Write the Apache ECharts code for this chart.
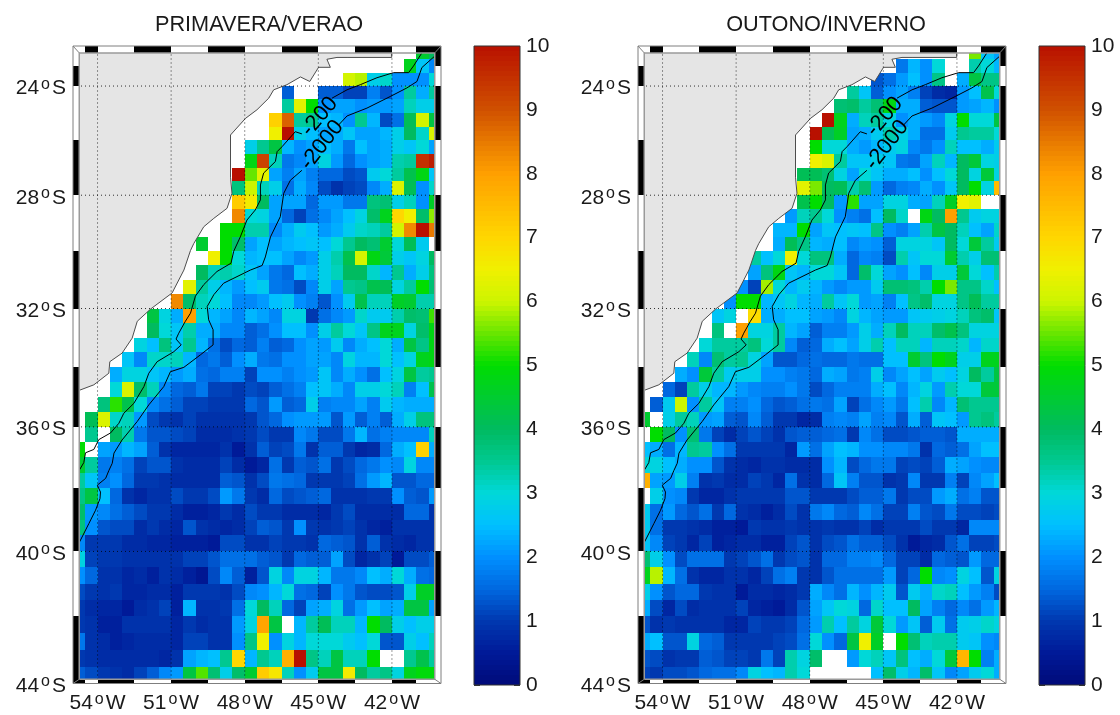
<!DOCTYPE html>
<html><head><meta charset="utf-8">
<style>html,body{margin:0;padding:0;background:#fff}#c{width:1120px;height:715px}</style>
<script src="https://cdn.jsdelivr.net/npm/echarts@6/dist/echarts.min.js"></script>
</head><body><div id="c"></div>
<script>
const _ = null, b = n => Array(n).fill(null);
const titles = ['PRIMAVERA/VERAO', 'OUTONO/INVERNO'];
const lonTicks = [-54, -51, -48, -45, -42];
const latTicks = [-24, -28, -32, -36, -40, -44];
const cbarTicks = [0, 10];
const palette = ['#000a78','#001a98','#0038b0','#0068e0','#0090ff','#00c0ff','#00d8d8','#00c890','#00bb60','#00cc30','#00dd00','#66e600','#ccf500','#f0f000','#ffd700','#ffbb00','#ffa000','#e87a00','#d05000','#c43000','#b81000'];
// rows run north to south in half-degree steps from 22.5S; columns west to east from 55W
const springRows = [
[...b(28),4.5,4.0],
[...b(27),4.7,2.6,1.9],
[...b(22),6.1,5.9,2.8,3.1,2.0,2.0,2.0,3.0],
[...b(17),1.4,_,_,1.4,1.4,1.1,1.1,1.8,1.3,2.0,3.4,2.3,3.4],
[...b(17),3.4,6.3,5.0,2.0,2.2,2.2,2.0,2.1,2.1,2.2,3.2,2.8,2.8],
[...b(16),7.1,8.8,3.4,3.5,2.5,2.4,2.0,3.5,2.4,1.2,1.6,4.1,6.1,4.3],
[...b(16),6.5,10,2.8,2.5,2.2,2.3,2.6,2.2,2.2,2.4,2.8,4.0,3.1,6.2],
[...b(14),2.8,3.5,4.3,2.4,2.0,2.2,2.5,2.3,1.7,2.5,2.2,2.3,2.8,2.6,3.0,2.2],
[...b(14),4.8,9.2,3.2,1.7,1.9,2.2,2.9,2.1,1.5,2.0,2.2,2.3,3.3,3.4,9.5,9.8],
[...b(13),10,5.5,6.3,2.2,1.8,2.2,1.8,1.5,1.5,1.2,1.3,2.7,3.0,3.4,4.2,4.8,2.6],
[...b(13),3.7,6.0,3.2,2.8,1.6,2.3,1.9,1.2,.9,1.1,1.2,1.9,2.3,6.2,4.1,2.0,3.1],
[...b(13),7.2,6.6,4.0,2.2,2.2,2.2,1.5,2.1,2.1,1.7,1.7,3.7,3.8,2.8,3.2,2.0,4.6],
[...b(13),8.3,3.0,2.9,2.2,1.5,1.1,1.6,1.9,2.2,2.5,2.9,3.9,4.7,7.0,6.5,3.9,5.7],
[...b(12),5.0,5.0,3.3,3.3,1.9,2.3,2.7,2.5,2.1,2.3,2.7,3.1,3.2,3.4,6.1,8.3,10,8.5],
[...b(10),4.5,_,5.0,3.9,2.2,2.5,2.2,2.4,2.5,2.6,2.5,3.0,3.5,4.0,3.8,4.5,3.0,4.1,2.7,_],
[...b(11),6.5,5.0,3.0,2.4,2.5,2.5,2.2,1.9,2.1,2.8,3.3,4.2,6.1,4.8,4.4,2.8,2.6,2.9,4.0],
[...b(10),4.0,3.2,3.3,3.1,2.6,2.2,1.7,1.5,2.5,2.3,2.8,3.2,4.0,4.0,3.1,2.4,3.5,2.3,2.8,3.7],
[...b(9),6.3,3.4,2.8,2.4,2.1,2.5,2.7,1.7,1.6,1.2,1.9,2.8,2.2,3.5,3.6,4.2,4.1,2.9,3.4,5.0,3.8],
[...b(8),8.3,3.9,3.2,3.0,2.5,1.9,1.9,2.1,2.5,2.7,2.0,1.8,1.3,2.0,2.7,4.2,3.2,3.2,4.6,4.5,3.3,3.3],
[...b(6),4.3,2.9,2.3,8.0,3.0,2.4,2.2,1.9,2.4,2.2,1.9,2.9,2.9,1.0,1.6,1.9,2.1,3.1,2.7,2.7,3.3,3.9,3.8,5.3],
[...b(6),4.0,3.0,2.6,3.3,2.3,2.3,1.9,1.9,1.4,1.6,2.0,2.5,2.5,2.0,2.8,3.4,3.0,2.6,3.6,4.7,4.7,2.9,3.9,4.8],
[...b(5),2.9,2.5,3.7,2.6,3.5,2.4,1.6,1.2,1.5,1.4,1.8,1.4,1.5,2.0,2.2,2.1,2.7,1.9,2.3,2.5,3.0,2.3,4.3,3.6,4.8],
[...b(4),2.6,1.9,3.1,3.1,3.2,2.4,1.5,1.7,1.4,2.0,2.3,1.7,1.6,2.0,2.0,2.2,2.2,1.9,2.9,2.4,2.4,3.0,2.5,2.9,4.7,4.8],
[...b(3),2.3,2.9,2.9,2.6,2.4,2.1,2.3,1.6,1.5,1.8,1.8,1.1,2.0,2.0,1.8,2.0,2.1,2.6,1.9,2.3,2.0,1.6,2.5,2.9,4.3,3.4,3.5],
[...b(3),3.0,6.2,3.9,3.2,1.9,1.5,1.4,1.7,1.1,1.1,1.0,1.2,1.1,1.4,1.6,1.8,2.5,2.6,2.3,1.9,2.8,2.8,3.0,3.2,1.8,2.5,4.2],
[...b(2),3.7,5.2,4.2,3.0,1.9,1.6,1.4,1.1,1.1,1.0,1.0,1.0,1.5,1.3,2.1,1.4,1.5,2.8,1.8,1.9,1.9,2.2,1.8,2.7,2.4,2.3,2.3,2.3],
[_,4.1,6.2,3.1,3.2,2.1,1.2,1.0,.9,1.1,.9,.9,.9,.9,1.0,1.3,1.5,2.0,2.1,2.1,2.1,1.3,2.1,1.4,1.8,1.4,2.3,2.8,3.7,3.7],
[_,3.5,_,4.0,3.3,1.7,1.3,1.3,1.2,1.1,.8,.8,.8,.9,1.0,1.2,1.0,1.0,1.9,1.7,1.2,1.2,1.7,2.4,1.6,1.8,1.9,1.9,1.9,3.2],
[5.0,_,2.2,2.1,2.4,2.2,1.4,.9,.7,.7,.7,.7,.9,.5,.9,1.4,1.1,1.2,1.7,.9,1.4,1.4,1.0,.7,.8,1.5,2.3,2.5,7.1,2.3],
[4.5,3.4,1.7,1.8,1.6,1.1,1.3,1.3,.9,.8,.8,.8,1.1,.8,.5,.7,1.6,1.0,1.4,1.3,1.6,1.0,1.2,1.5,1.7,2.0,1.9,2.9,1.9,1.9],
[3.4,2.6,1.8,2.0,1.5,1.0,1.0,.9,.8,.8,.8,.8,1.4,1.3,.9,1.2,1.7,1.6,1.5,1.0,1.0,1.0,1.1,1.6,2.1,2.4,1.3,1.3,1.5,1.5],
[3.6,4.3,2.5,1.5,.9,.7,.9,.9,1.2,1.0,1.0,1.2,2.1,1.7,1.0,.8,1.5,1.2,1.3,1.4,1.5,.9,.9,.9,1.0,1.0,2.0,1.4,1.3,2.1],
[3.9,2.1,1.9,1.6,1.4,1.2,1.0,1.0,.8,.6,.6,.7,1.0,.8,1.2,1.0,1.0,.8,.8,.8,.7,1.0,1.2,.8,.8,.8,.8,1.5,1.5,.9],
[3.7,2.0,1.3,1.2,1.2,.8,1.0,.8,.7,1.3,.9,.8,.7,.8,1.1,1.4,1.3,1.0,2.0,1.0,.9,1.0,1.1,.9,.7,.6,.9,.9,.9,.9],
[1.9,1.0,1.0,1.0,.8,.8,.7,.7,.6,.6,.6,.5,1.2,1.2,.9,.9,1.1,1.0,1.0,.9,1.5,1.4,1.3,.9,1.4,.9,.8,.7,.9,.9],
[2.9,1.1,1.0,1.0,.9,.9,.9,.9,.9,1.1,1.1,1.3,1.6,1.6,1.6,1.4,1.3,1.0,1.5,1.4,1.4,2.2,1.2,.7,.9,1.1,.5,1.2,1.2,1.4],
[2.0,1.5,.9,.9,.7,.8,.6,.9,.8,.6,.4,1.2,1.9,1.4,.6,1.3,2.9,1.9,2.9,2.9,2.4,1.7,1.7,1.9,2.5,2.3,3.0,2.3,1.6,1.5],
[1.2,1.0,.9,1.0,.7,.7,.8,.8,.6,1.0,1.0,1.0,.9,1.2,1.9,2.0,2.4,3.0,1.6,1.5,1.1,2.0,1.7,1.3,1.2,1.2,1.3,2.8,4.6,4.6],
[1.0,.8,.7,.7,.5,.8,.9,1.1,.6,2.4,.9,.9,1.0,1.6,3.0,4.0,3.2,1.5,1.1,2.2,2.3,2.9,1.6,2.1,2.5,2.2,2.3,4.3,4.3,2.2],
[1.0,.9,.6,.6,.9,.9,.9,.9,.7,1.0,.8,.9,.9,2.1,2.9,7.9,4.3,_,2.4,3.4,4.1,3.2,3.2,2.4,5.0,4.0,2.8,2.5,2.8,2.8],
[1.7,.9,.8,.6,.7,.8,.8,.8,.7,1.1,1.1,.9,.9,2.0,3.6,6.5,2.0,2.9,2.4,3.0,3.0,3.0,2.7,2.5,3.0,1.3,1.3,2.8,2.5,3.2],
[1.0,.9,.8,.8,.8,.8,.8,.7,.9,2.2,2.4,2.5,3.5,7.0,2.4,3.5,3.2,7.7,10,3.6,3.2,4.3,3.2,3.2,5.0,_,_,3.5,4.2,3.4],
[1.4,1.2,1.0,.9,.8,1.1,1.4,1.9,2.1,4.3,5.4,3.8,2.8,3.9,4.5,7.2,6.7,3.2,2.0,2.7,4.3,4.3,6.6,4.0,3.4,3.6,2.9,4.7,4.9,4.9]
];
const autumnRows = [
[...b(27),5.6,2.6,2.2],
[...b(21),1.7,2.4,2.0,3.0,_,_,3.3,3.0,2.4],
[...b(19),1.3,1.6,2.1,2.5,2.0,3.6,_,2.3,4.3,3.6,3.6],
[...b(17),3.4,2.6,1.4,2.0,2.2,1.8,1.1,.8,.7,2.1,2.5,4.2,3.0],
[...b(16),3.8,3.9,3.4,3.8,4.8,2.3,2.3,1.4,1.3,1.3,2.1,2.2,2.4,2.0],
[...b(15),10,4.7,2.3,3.2,3.4,2.9,2.0,2.3,2.1,1.9,2.9,5.0,3.0,3.0,4.3],
[...b(14),10,4.1,4.6,2.2,2.3,2.7,3.3,2.8,2.3,1.6,1.6,2.7,3.5,3.4,3.4,3.0],
[...b(14),5.0,3.0,3.0,2.3,2.1,2.4,2.7,2.9,1.9,1.7,2.0,3.2,2.5,2.5,2.3,2.7],
[...b(14),6.5,6.2,3.4,2.6,2.6,2.8,2.6,1.7,1.6,2.2,3.2,2.4,4.0,4.4,2.9,2.8],
[...b(13),4.1,4.1,3.8,2.9,2.2,3.0,2.6,2.3,2.3,2.5,2.0,2.5,3.0,4.0,2.9,4.4,2.9],
[...b(13),6.3,5.6,4.0,4.1,3.3,3.8,2.1,1.5,1.8,1.9,2.3,2.0,2.6,4.0,5.0,2.9,7.5],
[...b(13),4.2,5.0,4.0,2.1,5.2,2.2,2.2,2.9,2.9,2.3,2.2,3.2,4.6,6.5,6.3,_,_],
[...b(12),2.1,3.2,3.5,3.0,2.0,1.8,1.6,2.5,4.0,3.1,_,4.8,4.0,8.0,3.5,2.7,2.9,2.9],
[...b(11),2.4,2.4,5.0,2.2,2.6,2.5,2.6,2.5,3.6,2.0,1.8,2.2,3.3,4.3,4.0,3.2,2.5,2.2,3.1],
[...b(11),2.3,4.1,3.6,2.4,2.3,2.5,1.9,2.1,2.0,1.4,2.9,2.9,2.9,2.6,4.0,3.0,4.4,3.4,2.7],
[...b(9),3.4,2.5,3.0,6.5,3.0,3.7,3.7,2.3,1.5,1.9,1.8,1.2,3.3,2.6,3.0,3.0,4.5,3.3,2.8,3.8,3.8],
[...b(9),2.2,3.7,4.8,2.6,2.4,3.0,3.0,2.6,1.5,3.9,3.0,2.2,2.0,2.5,1.9,2.8,2.8,4.4,3.0,2.5,3.3],
[...b(8),2.0,1.1,5.8,3.0,2.4,2.7,2.4,2.1,1.9,2.1,2.1,2.7,3.8,3.8,3.7,3.3,5.0,5.6,3.6,3.6,3.1,2.5],
[...b(7),2.0,5.0,5.0,2.4,2.6,2.9,2.4,2.3,3.4,2.6,3.0,2.1,2.2,1.8,2.5,3.6,3.9,2.9,2.9,3.6,4.1,3.4,3.4],
[...b(6),2.6,2.9,_,6.9,2.3,2.3,2.5,2.5,2.2,2.1,1.9,2.9,2.4,2.2,2.1,2.1,2.6,2.7,2.8,2.9,3.2,3.7,3.9,2.6],
[...b(6),3.7,_,8.0,2.9,2.9,3.4,2.4,2.2,1.4,1.8,1.8,2.1,2.8,2.3,3.2,4.0,3.2,3.2,3.9,4.2,3.7,2.9,2.9,2.9],
[...b(5),3.0,3.4,3.4,3.4,3.7,3.0,3.4,1.9,1.4,1.5,2.3,2.5,2.2,2.8,3.3,2.5,3.2,3.2,2.4,3.2,3.2,3.1,2.4,3.1,3.1],
[...b(4),3.2,1.9,3.8,3.4,3.5,2.9,2.2,1.3,1.3,1.5,1.6,1.5,1.5,1.7,1.6,1.6,2.5,2.5,4.5,3.7,5.0,4.7,2.8,2.8,4.7,4.7],
[...b(3),2.3,2.0,4.4,3.4,2.7,2.8,2.8,2.0,2.0,1.8,1.7,1.5,2.3,2.2,1.7,1.8,2.8,1.9,2.2,2.5,2.2,2.7,2.5,2.9,4.0,3.4,4.3],
[...b(2),1.5,1.1,3.4,2.8,2.4,2.4,2.1,1.9,1.8,1.8,2.0,1.7,1.2,1.5,1.8,1.8,1.8,2.3,2.5,1.9,2.4,2.9,2.1,3.3,3.0,3.0,4.4,4.4],
[_,1.4,2.7,6.0,2.0,3.4,2.6,1.8,1.8,2.0,1.5,1.3,1.4,1.6,1.7,1.6,2.2,1.1,1.6,1.9,2.1,1.7,2.5,3.3,1.9,2.4,3.8,3.5,3.5,3.5],
[4.5,_,2.8,3.4,3.2,2.1,2.2,1.4,1.3,1.9,1.4,1.0,1.0,.7,.8,1.8,1.9,1.8,2.2,1.8,1.9,1.3,2.3,1.4,2.6,2.5,2.1,3.5,3.7,3.4],
[_,5.0,4.0,2.0,3.8,1.7,1.1,.8,1.1,1.3,1.1,.9,1.3,1.4,1.4,1.5,1.6,1.0,1.9,1.6,1.2,1.2,1.3,1.4,1.4,1.3,2.3,2.3,2.3,2.3],
[2.5,2.3,1.6,2.4,3.5,3.4,2.0,1.6,1.0,1.0,1.0,1.0,.7,2.1,1.6,2.2,2.5,2.4,2.0,2.0,1.9,1.9,1.7,.9,1.5,1.4,1.6,2.2,2.5,2.5],
[3.0,2.9,2.5,2.3,2.0,2.0,1.3,.9,.8,.7,.9,.9,.8,.8,.8,2.0,2.4,1.2,1.5,1.7,1.7,1.1,1.2,1.1,1.4,2.3,2.2,2.0,1.9,1.9],
[7.7,2.2,2.1,2.8,1.8,.9,1.0,.8,.8,1.1,1.0,.7,1.6,.9,.8,1.5,2.6,1.8,1.3,1.3,.9,1.0,1.9,1.0,1.0,1.8,1.1,1.9,2.2,2.5],
[_,2.8,2.0,1.9,1.0,.7,.7,.9,1.0,1.0,1.0,1.0,1.3,1.3,1.0,1.0,1.0,1.2,1.4,1.4,1.7,1.0,1.2,1.2,2.1,2.3,1.6,1.8,1.3,1.3],
[2.7,1.6,2.1,1.5,1.3,1.6,1.0,1.5,.9,.8,.6,.8,1.2,.9,1.7,1.9,1.5,1.4,1.9,1.6,1.1,1.1,1.8,1.3,1.2,1.7,1.2,1.2,1.1,1.2],
[2.7,1.6,1.0,1.0,.9,.8,.6,.6,.5,1.0,.9,.9,1.0,.9,.9,1.0,.9,.9,1.1,.8,1.0,1.0,1.0,1.2,1.0,1.0,.7,1.9,1.9,1.9],
[2.6,1.9,1.1,1.0,.7,1.1,.6,.7,.8,.8,.6,.6,1.1,1.3,.9,1.2,1.3,1.6,1.4,1.4,1.2,.9,.5,.7,.8,1.3,1.6,1.1,1.1,1.2],
[3.8,2.8,2.0,1.2,1.6,1.6,1.6,1.0,1.1,1.3,1.6,1.0,1.2,1.3,.9,1.5,1.5,1.8,1.8,1.9,1.5,1.1,1.1,.8,1.5,1.4,1.3,2.1,1.5,1.5],
[4.7,5.9,2.4,1.6,.9,.7,.7,.9,.9,.7,1.1,1.6,1.8,1.0,.9,1.3,1.6,1.6,1.6,1.6,2.1,1.1,1.5,5.0,1.9,2.0,2.9,2.5,1.3,2.9],
[2.8,2.0,1.3,1.5,1.5,1.0,.9,.9,.5,.8,.8,.7,.8,1.0,2.3,1.9,1.6,2.4,2.0,2.4,2.7,1.3,2.7,2.3,3.1,3.2,2.5,2.1,1.8,1.2],
[2.3,1.2,.7,1.2,.8,.9,.9,.9,1.1,.7,.6,.5,.8,1.3,2.2,2.6,3.0,2.9,1.5,3.1,2.5,2.5,4.0,2.2,1.8,1.5,1.9,1.6,2.1,2.4],
[1.3,.9,1.0,.9,.9,.9,.9,.7,.7,1.1,1.0,1.0,1.1,1.5,2.1,3.3,2.5,3.4,2.9,4.4,3.0,2.1,2.6,1.4,2.7,1.6,2.7,2.8,3.1,2.9],
[2.3,2.5,1.3,1.3,2.9,1.5,1.4,1.0,1.0,1.0,1.0,1.1,1.2,1.6,3.0,2.0,1.5,4.3,6.5,4.6,_,5.0,3.8,3.2,3.3,3.3,2.7,2.6,2.0,1.9],
[1.3,1.2,.9,1.0,1.0,1.4,1.3,1.1,1.1,1.0,1.7,1.1,3.3,2.9,3.9,_,_,2.1,3.0,3.2,2.6,3.7,2.5,2.3,3.0,4.4,7.6,5.0,1.8,2.3],
[1.1,1.0,1.2,1.2,1.3,1.5,1.6,1.6,1.9,2.9,2.5,2.4,3.3,3.0,_,_,_,_,_,2.5,3.9,2.8,2.4,3.9,2.6,1.9,2.2,2.7,3.0,2.3]
];
const coast = [[-42.01,-22.5],[-42.01,-22.93],[-43.83,-22.93],[-44.24,-22.93],[-44.65,-23.0],[-44.51,-23.3],[-44.99,-23.3],[-45.35,-23.83],[-45.73,-23.66],[-46.28,-23.95],[-46.82,-24.14],[-47.02,-24.45],[-47.5,-24.88],[-47.97,-25.2],[-48.58,-25.81],[-48.58,-27.35],[-48.52,-27.93],[-48.72,-28.47],[-49.26,-28.83],[-49.67,-29.13],[-50.08,-29.73],[-50.21,-29.97],[-50.48,-30.66],[-50.96,-31.46],[-51.84,-32.02],[-52.38,-32.44],[-52.59,-33.02],[-53.0,-33.53],[-53.5,-33.82],[-53.54,-34.21],[-54.15,-34.6],[-54.73,-34.78],[-55,-34.82]];
const landCorners = [[-55,-22.5]];
const iso200North = [[-40.78,-22.76],[-41.12,-23.25],[-41.32,-23.5],[-41.93,-23.5],[-42.61,-23.69],[-43.29,-23.95],[-43.83,-24.14],[-44.44,-24.45]];
const iso200South = [[-45.67,-25.77],[-45.94,-25.69],[-46.48,-26.24],[-46.68,-26.42],[-46.75,-26.78],[-47.23,-27.2],[-47.36,-27.63],[-47.36,-28.17],[-47.57,-28.53],[-47.91,-28.89],[-48.18,-29.49],[-48.45,-30.0],[-48.56,-30.42],[-49.13,-30.71],[-49.67,-31.17],[-50.01,-31.57],[-50.21,-32.16],[-50.42,-32.44],[-50.69,-32.85],[-50.8,-33.05],[-50.59,-33.25],[-50.89,-33.48],[-51.57,-33.82],[-51.91,-34.21],[-52.11,-34.66],[-52.52,-35.22],[-52.93,-35.55],[-53.13,-35.88],[-53.47,-36.2],[-53.95,-36.42],[-54.15,-36.74],[-54.49,-36.85],[-54.56,-37.17],[-54.73,-37.4]];
const iso2000North = [[-40.28,-22.9],[-40.78,-23.31],[-40.98,-23.83],[-41.39,-24.07],[-42.07,-24.39],[-43.02,-24.82],[-43.83,-25.11],[-44.17,-25.44]];
const iso2000South = [[-45.67,-27.1],[-46.14,-27.46],[-46.41,-27.93],[-46.55,-28.77],[-46.95,-29.49],[-47.16,-30.2],[-47.29,-30.5],[-47.77,-30.66],[-48.86,-31.12],[-49.26,-31.52],[-49.53,-31.93],[-49.47,-32.39],[-49.29,-32.73],[-49.29,-33.25],[-49.81,-33.59],[-50.48,-34.01],[-51.03,-34.16],[-51.3,-34.66],[-51.91,-35.27],[-52.38,-35.82],[-53.0,-36.43],[-53.33,-36.86],[-53.4,-37.19],[-53.54,-37.43],[-53.67,-37.68],[-54.01,-37.9],[-53.88,-38.12],[-53.9,-38.33],[-54.08,-38.7],[-54.35,-39.12],[-54.73,-39.7]];
const isoLabels = [[-44.95,-25.13,'-200',50],[-44.85,-26.18,'-2000',52]];
const stripeLons = [-55,-54.5,-54,-52.5,-51,-49.5,-48,-46.5,-45,-43.5,-42,-41,-40];
const stripeLats = [-22.5,-23.25,-24,-26,-28,-30,-32,-34,-36,-38,-40,-42,-44];

const FONT = '"Liberation Sans", Arial, Helvetica, sans-serif';
const merc = lat => Math.log(Math.tan(Math.PI/4 + lat*Math.PI/360));
const unmerc = y => (2*Math.atan(Math.exp(y)) - Math.PI/2)*180/Math.PI;
const LON0 = -55, LON1 = -40, LAT0 = -44, LAT1 = -22.5;
const inLonW = -54.745, inLonE = -40.255, inLatN = -22.76, inLatS = -43.875;
const pt = p => [p[0], merc(p[1])];

function rectItem(api, x0, x1, y0, y1, style){
  const a = api.coord([x0,y0]), c = api.coord([x1,y1]);
  const x = Math.round(Math.min(a[0],c[0])), X = Math.round(Math.max(a[0],c[0]));
  const y = Math.round(Math.min(a[1],c[1])), Y = Math.round(Math.max(a[1],c[1]));
  return {type:'rect', shape:{x:x,y:y,width:X-x,height:Y-y}, style:style};
}
const renderCell = (p,api) => rectItem(api, api.value(0), api.value(1), api.value(2), api.value(3), {fill:api.visual('color')});

function rowsToCells(rows){
  const out = [];
  rows.forEach((row,r) => row.forEach((v,c) => {
    if (v === null || v === undefined) return;
    const lon = LON0 + c*0.5, lat = LAT1 - r*0.5;
    out.push([lon, lon+0.5, merc(lat), merc(Math.max(lat-0.5, LAT0)), v]);
  }));
  return out;
}
function frameBars(){
  const out = [];
  for (let i=0;i<stripeLons.length-1;i++){
    const x0=stripeLons[i], x1=stripeLons[i+1], odd=i%2===1;
    out.push([x0,x1,merc(LAT1),merc(inLatN),odd?1:0]);
    out.push([x0,x1,merc(inLatS),merc(LAT0),odd?0:1]);
  }
  for (let i=0;i<stripeLats.length-1;i++){
    const y0=merc(stripeLats[i]), y1=merc(stripeLats[i+1]), odd=i%2===1;
    out.push([LON0,inLonW,y0,y1,odd?1:0]);
    out.push([inLonE,LON1,y0,y1,odd?0:1]);
  }
  return out;
}
const cbarLevels = Array.from({length:128},(v,i)=>i*10/128);
const cbarData = cbarLevels.map(l => [0,1,l,l+10/128,l+5/128]);
const lineS = (xi,yi,data,color,width,z,extra) => Object.assign({type:'line',xAxisIndex:xi,yAxisIndex:yi,data:data,symbol:'none',silent:true,animation:false,z:z,lineStyle:{color:color,width:width}},extra||{});

const xAxes=[], yAxes=[], grids=[], series=[], cellSeries=[];
const labelRich = {n:{fontFamily:FONT,fontSize:21,color:'#1a1a1a'},o:{fontFamily:FONT,fontSize:16,color:'#1a1a1a',verticalAlign:'top',padding:[0,2,8,2]}};
[0,1].forEach(k => {
  const dx = k*565;
  const rows = k ? autumnRows : springRows;
  const gm = grids.length;
  grids.push({left:73+dx, top:46, width:368, height:637.5});
  grids.push({left:474+dx, top:46, width:46, height:639});
  const xm = xAxes.length;
  xAxes.push({type:'value',gridIndex:gm,min:LON0,max:LON1,axisLine:{show:false},axisTick:{show:false},splitLine:{show:false},
    axisLabel:{customValues:lonTicks,margin:8,rich:labelRich,formatter:v=>`{n|${Math.abs(Math.round(v))}}{o|o}{n|W}`}});
  xAxes.push({type:'value',gridIndex:gm+1,min:0,max:1,show:false});
  const ym = yAxes.length;
  yAxes.push({type:'value',gridIndex:gm,min:merc(LAT0),max:merc(LAT1),axisLine:{show:false},axisTick:{show:false},splitLine:{show:false},
    axisLabel:{customValues:latTicks.map(merc),margin:7,padding:[5,0,0,0],rich:labelRich,formatter:v=>`{n|${Math.abs(Math.round(unmerc(v)))}}{o|o}{n|S}`}});
  const cbTick = {show:true,inside:true,length:6,lineStyle:{color:'#333',width:1}};
  yAxes.push({type:'value',gridIndex:gm+1,position:'left',min:cbarTicks[0],max:cbarTicks[1],interval:1,axisLine:{show:false},axisTick:cbTick,axisLabel:{show:false},splitLine:{show:false}});
  yAxes.push({type:'value',gridIndex:gm+1,position:'right',min:cbarTicks[0],max:cbarTicks[1],interval:1,axisLine:{show:false},axisTick:cbTick,splitLine:{show:false},
    axisLabel:{show:true,margin:6,fontFamily:FONT,fontSize:21,color:'#1a1a1a'}});

  cellSeries.push(series.length);
  series.push({type:'custom',xAxisIndex:xm,yAxisIndex:ym,data:rowsToCells(rows),encode:{x:[0,1],y:[2,3]},renderItem:renderCell,silent:true,animation:false,z:2});
  const landPts = coast.concat(landCorners).map(pt);
  series.push({type:'custom',xAxisIndex:xm,yAxisIndex:ym,data:landPts,encode:{x:0,y:1},silent:true,animation:false,z:3,
    renderItem:(p,api)=> p.dataIndex===0 ? {type:'polygon',shape:{points:landPts.map(q=>api.coord(q))},style:{fill:'#e5e5e5'}} : null});
  series.push(lineS(xm,ym,coast.map(pt),'#4d4d4d',1,4));
  lonTicks.forEach(t => series.push(lineS(xm,ym,[[t,merc(LAT0)],[t,merc(LAT1)]],'#000',1,5,{lineStyle:{color:'#000',width:1,type:[1,3],opacity:.8}})));
  latTicks.slice(0,-1).forEach(t => series.push(lineS(xm,ym,[[LON0,merc(t)],[LON1,merc(t)]],'#000',1,5,{lineStyle:{color:'#000',width:1,type:[1,3],opacity:.8}})));
  [iso200North,iso200South,iso2000North,iso2000South].forEach(s => series.push(lineS(xm,ym,s.map(pt),'#000',1,6)));
  series.push({type:'custom',xAxisIndex:xm,yAxisIndex:ym,data:isoLabels.map(l=>[l[0],merc(l[1]),l[2],l[3]]),encode:{x:0,y:1},silent:true,animation:false,z:7,
    renderItem:(p,api)=>{const c=api.coord([api.value(0),api.value(1)]);
      return {type:'text',x:c[0],y:c[1],rotation:api.value(3)*Math.PI/180,style:{text:String(api.value(2)),fontFamily:FONT,fontSize:22,fill:'#000',align:'center',verticalAlign:'middle'}};},
    dimensions:['x','y',{name:'t',type:'ordinal'},'r']});
  series.push({type:'custom',xAxisIndex:xm,yAxisIndex:ym,data:frameBars(),encode:{x:[0,1],y:[2,3]},silent:true,animation:false,z:8,clip:false,
    renderItem:(p,api)=>rectItem(api,api.value(0),api.value(1),api.value(2),api.value(3),{fill:api.value(4)?'#000':'#fff'})});
  const box=(a,b,c,d)=>[[a,merc(c)],[b,merc(c)],[b,merc(d)],[a,merc(d)],[a,merc(c)]];
  series.push(lineS(xm,ym,box(LON0,LON1,LAT0,LAT1),'#7f7f7f',1,9,{clip:false}));
  series.push(lineS(xm,ym,box(inLonW,inLonE,inLatS,inLatN),'#9a9a9a',1.5,9,{clip:false}));
  [[[LON0,LAT1],[inLonW,inLatN]],[[LON1,LAT1],[inLonE,inLatN]],[[LON0,LAT0],[inLonW,inLatS]],[[LON1,LAT0],[inLonE,inLatS]]].forEach(d =>
    series.push(lineS(xm,ym,d.map(pt),'#7f7f7f',1,9,{clip:false})));
  cellSeries.push(series.length);
  series.push({type:'custom',xAxisIndex:xm+1,yAxisIndex:ym+1,data:cbarData,encode:{x:[0,1],y:[2,3]},renderItem:renderCell,silent:true,animation:false,z:2});
  series.push(lineS(xm+1,ym+1,[[0,0],[1,0],[1,10],[0,10],[0,0]],'#333',1,9,{clip:false}));
});

const chart = echarts.init(document.getElementById('c'),null,{renderer:'canvas'});
chart.setOption({
  animation:false,
  backgroundColor:'#fff',
  title:titles.map((t,i)=>({text:t,left:(i?821:254),top:9,textAlign:'center',textStyle:{fontFamily:FONT,fontSize:21.7,fontWeight:'normal',color:'#1a1a1a'}})),
  grid:grids, xAxis:xAxes, yAxis:yAxes, series:series,
  visualMap:[{type:'continuous',show:false,min:0,max:10,dimension:4,seriesIndex:cellSeries,inRange:{color:palette}}]
});
</script></body></html>
